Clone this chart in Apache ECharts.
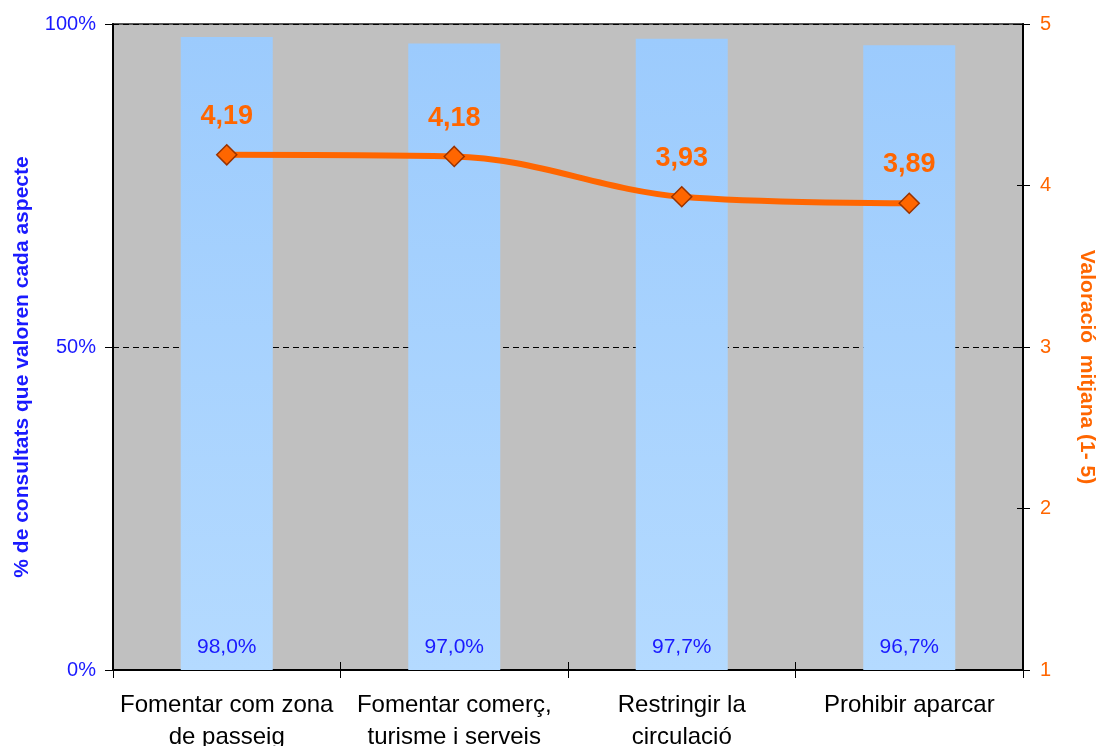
<!DOCTYPE html>
<html>
<head>
<meta charset="utf-8">
<script src="https://cdn.jsdelivr.net/npm/echarts@6/dist/echarts.min.js"></script>
<style>
html,body{margin:0;padding:0;background:#fff;}
#c{width:1097px;height:746px;}
</style>
</head>
<body>
<div id="c"></div>
<script>
const categories = ['Fomentar com zona\nde passeig', 'Fomentar comerç,\nturisme i serveis', 'Restringir la\ncirculació', 'Prohibir aparcar'];
const pctValues = [98.0, 97.0, 97.7, 96.7];
const ratingValues = [4.19, 4.18, 3.93, 3.89];
const leftTicks = [0, 50, 100];
const rightTicks = [1, 2, 3, 4, 5];

const FONT = "'Liberation Sans', Arial, sans-serif";
const BLUE = '#1a1aff';
const ORANGE = '#ff6600';

const chart = echarts.init(document.getElementById('c'), null, {renderer: 'canvas'});
chart.setOption({
  animation: false,
  backgroundColor: '#ffffff',
  textStyle: {fontFamily: FONT},
  grid: {
    left: 113, right: 74, top: 24, bottom: 76,
    outerBoundsMode: 'none',
    containLabel: false,
    show: true, backgroundColor: '#c0c0c0', borderColor: '#555555', borderWidth: 2
  },
  xAxis: [{
    type: 'category',
    data: categories,
    axisLine: {lineStyle: {color: '#000', width: 2}},
    axisTick: {show: true, length: 8, lineStyle: {color: '#000', width: 1}},
    axisLabel: {color: '#000', fontSize: 24, lineHeight: 32, margin: 19, fontFamily: FONT, interval: 0}
  }, {
    type: 'category',
    data: categories,
    position: 'bottom',
    axisLine: {show: false},
    axisTick: {show: true, inside: true, length: 8, lineStyle: {color: '#000', width: 1}},
    axisLabel: {show: false}
  }],
  yAxis: [{
    type: 'value',
    min: leftTicks[0], max: leftTicks[leftTicks.length - 1], interval: 50,
    position: 'left',
    name: '% de consultats que valoren cada aspecte',
    nameLocation: 'middle',
    nameGap: 80,
    nameRotate: 90,
    nameTextStyle: {color: BLUE, fontSize: 21, fontWeight: 'bold', fontFamily: FONT, padding: [0, 40, 0, 0]},
    axisLine: {show: true, lineStyle: {color: '#000', width: 2}},
    axisTick: {show: true, length: 8, lineStyle: {color: '#000', width: 1}},
    axisLabel: {color: BLUE, fontSize: 20, margin: 17, fontFamily: FONT, formatter: v => v + '%'},
    splitLine: {show: true, lineStyle: {color: '#000', type: [6, 4], width: 1}}
  }, {
    type: 'value',
    min: rightTicks[0], max: rightTicks[rightTicks.length - 1], interval: 1,
    position: 'right',
    name: 'Valoració  mitjana (1- 5)',
    nameLocation: 'middle',
    nameGap: 53,
    nameRotate: -90,
    nameTextStyle: {color: ORANGE, fontSize: 21, fontWeight: 'bold', fontFamily: FONT, padding: [0, 0, 0, 40]},
    axisLine: {show: true, lineStyle: {color: '#000', width: 2}},
    axisTick: {show: true, length: 7, lineStyle: {color: '#000', width: 1}},
    axisLabel: {color: ORANGE, fontSize: 20, margin: 17, fontFamily: FONT},
    splitLine: {show: false}
  }, {
    type: 'value',
    min: rightTicks[0], max: rightTicks[rightTicks.length - 1], interval: 1,
    position: 'right',
    axisLine: {show: false},
    axisTick: {show: true, inside: true, length: 6, lineStyle: {color: '#000', width: 1}},
    axisLabel: {show: false},
    splitLine: {show: false}
  }],
  series: [{
    type: 'bar',
    xAxisIndex: 0,
    yAxisIndex: 0,
    data: pctValues,
    barWidth: 92,
    itemStyle: {
      color: new echarts.graphic.LinearGradient(0, 0, 0, 1, [
        {offset: 0, color: '#9ccbfd'},
        {offset: 1, color: '#b4daff'}
      ])
    },
    label: {
      show: true,
      position: 'insideBottom',
      distance: 12,
      color: BLUE,
      fontSize: 21,
      fontFamily: FONT,
      formatter: p => p.value.toFixed(1).replace('.', ',') + '%'
    },
    z: 2
  }, {
    type: 'line',
    xAxisIndex: 0,
    yAxisIndex: 1,
    data: ratingValues,
    smooth: 0.35,
    symbol: 'diamond',
    symbolSize: 20,
    lineStyle: {color: ORANGE, width: 6},
    itemStyle: {color: ORANGE, borderColor: '#993300', borderWidth: 1.5},
    label: {
      show: true,
      position: 'top',
      distance: 14,
      color: ORANGE,
      fontSize: 27,
      fontWeight: 'bold',
      fontFamily: FONT,
      formatter: p => p.value.toFixed(2).replace('.', ',')
    },
    z: 5
  }]
});
</script>
</body>
</html>
